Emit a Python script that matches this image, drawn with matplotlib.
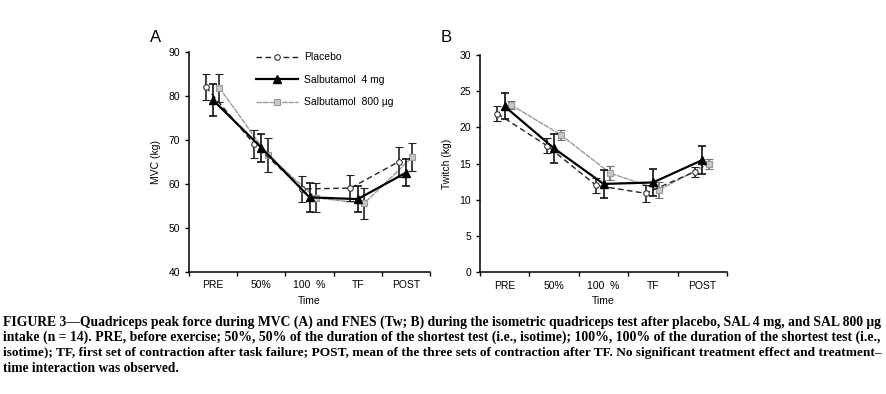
import matplotlib
matplotlib.use("Agg")
import matplotlib.pyplot as plt
from matplotlib.lines import Line2D
import numpy as np

categories = ["PRE", "50%", "100  %", "TF", "POST"]

# Panel A: MVC (kg)
mvc_placebo = [82.0, 69.0, 58.8, 59.0, 65.0]
mvc_placebo_err = [3.0, 3.2, 3.0, 3.0, 3.4]
mvc_sal4 = [79.0, 68.2, 56.9, 56.5, 62.5]
mvc_sal4_err = [3.6, 3.2, 3.3, 3.0, 3.0]
mvc_sal800 = [81.8, 66.5, 56.8, 55.5, 66.0]
mvc_sal800_err = [3.2, 3.9, 3.3, 3.5, 3.2]

# Panel B: Twitch (kg)
tw_placebo = [21.9, 17.5, 12.0, 10.9, 13.9]
tw_placebo_err = [1.0, 1.0, 1.0, 1.2, 0.7]
tw_sal4 = [22.9, 17.1, 12.2, 12.4, 15.5]
tw_sal4_err = [1.8, 2.0, 1.9, 1.9, 1.9]
tw_sal800 = [23.1, 19.0, 13.7, 11.4, 15.0]
tw_sal800_err = [0.6, 0.7, 1.0, 1.1, 0.7]

caption_lines = [
    "FIGURE 3\u2014Quadriceps peak force during MVC (A) and FNES (Tw; B) during the isometric quadriceps test after placebo, SAL 4 mg, and SAL 800 \u03bcg",
    "intake (n = 14). PRE, before exercise; 50%, 50% of the duration of the shortest test (i.e., isotime); 100%, 100% of the duration of the shortest test (i.e.,",
    "isotime); TF, first set of contraction after task failure; POST, mean of the three sets of contraction after TF. No significant treatment effect and treatment\u2013",
    "time interaction was observed.",
]
caption_sizes = [9.8, 9.9, 9.62, 9.75]

plt.rcParams['font.family'] = ['Liberation Sans', 'DejaVu Sans']

fig = plt.figure(figsize=(8.87, 3.94), dpi=100)
axA = fig.add_axes([0.2131, 0.3104, 0.2717, 0.5584])
axB = fig.add_axes([0.5412, 0.3089, 0.2785, 0.5515])

x = np.arange(len(categories))
off_p, off_s8 = -0.15, 0.13
GRAY = "#9a9a9a"

st_p = dict(color="#222222", lw=1.0, ls=(0, (4, 2.5)), marker='o', ms=4,
            mfc="white", mec="#333333", mew=0.8)
st_s4 = dict(color="black", lw=1.6, ls='-', marker='^', ms=5.5, mfc="black", mec="black")
st_s8 = dict(color=GRAY, lw=1.0, ls=(0, (4, 0.6)), marker='s', ms=4,
             mfc="#c8c8c8", mec=GRAY, mew=0.8)

def draw(ax, p, pe, s4, s4e, s8, s8e, gray_err):
    ax.errorbar(x + off_s8, s8, yerr=s8e, **st_s8,
                ecolor=("#707070" if gray_err else "#222222"), elinewidth=1.2,
                capsize=3, capthick=1.2, zorder=3)
    ax.errorbar(x + off_p, p, yerr=pe, **st_p,
                ecolor="#222222", elinewidth=1.2, capsize=3, capthick=1.2, zorder=4)
    ax.errorbar(x, s4, yerr=s4e, **st_s4,
                ecolor="#111111", elinewidth=1.2, capsize=3, capthick=1.2, zorder=5)
    ax.set_xlim(-0.5, len(categories) - 0.5)
    ax.set_xticks(x)
    ax.set_xticklabels(categories)
    ax.set_xticks(np.arange(len(categories) + 1) - 0.5, minor=True)
    ax.tick_params(axis='x', which='major', length=0, labelsize=7.5, pad=6)
    ax.tick_params(axis='x', which='minor', length=3, direction='out', width=1)
    ax.tick_params(axis='y', length=3, direction='out', width=1, labelsize=7.5)
    for s in ['top', 'right']:
        ax.spines[s].set_visible(False)
    for s in ['left', 'bottom']:
        ax.spines[s].set_linewidth(1.1)
    ax.set_xlabel("Time", fontsize=7.5, labelpad=4)

draw(axA, mvc_placebo, mvc_placebo_err, mvc_sal4, mvc_sal4_err, mvc_sal800, mvc_sal800_err, False)
axA.set_ylim(40, 90)
axA.set_yticks(np.arange(40, 91, 10))
axA.set_ylabel("MVC (kg)", fontsize=7.5, labelpad=5)

draw(axB, tw_placebo, tw_placebo_err, tw_sal4, tw_sal4_err, tw_sal800, tw_sal800_err, True)
axB.set_ylim(0, 30)
axB.set_yticks(np.arange(0, 31, 5))
axB.set_ylabel("Twitch (kg)", fontsize=7.5, labelpad=5)

handles = [Line2D([], [], **st_p), Line2D([], [], **st_s4), Line2D([], [], **st_s8)]
labels = ["Placebo", "Salbutamol  4 mg", "Salbutamol  800 \u00b5g"]
axA.legend(handles, labels, loc='upper left', bbox_to_anchor=(0.24, 1.04), frameon=False,
           fontsize=7.5, handlelength=4, labelspacing=1.2, handletextpad=0.6)

fig.text(150 / 887, 1 - 38 / 394, "A", fontsize=12, ha='left', va='center')
fig.text(441 / 887, 1 - 38 / 394, "B", fontsize=12, ha='left', va='center')

y0 = 1 - 322 / 394
for i, (line, fs) in enumerate(zip(caption_lines, caption_sizes)):
    fig.text(3 / 887, y0 - i * (15.5 / 394), line, fontsize=fs, fontweight='bold',
             family=['Liberation Serif', 'DejaVu Serif'], ha='left', va='center')

fig.savefig("out.png", dpi=100)
